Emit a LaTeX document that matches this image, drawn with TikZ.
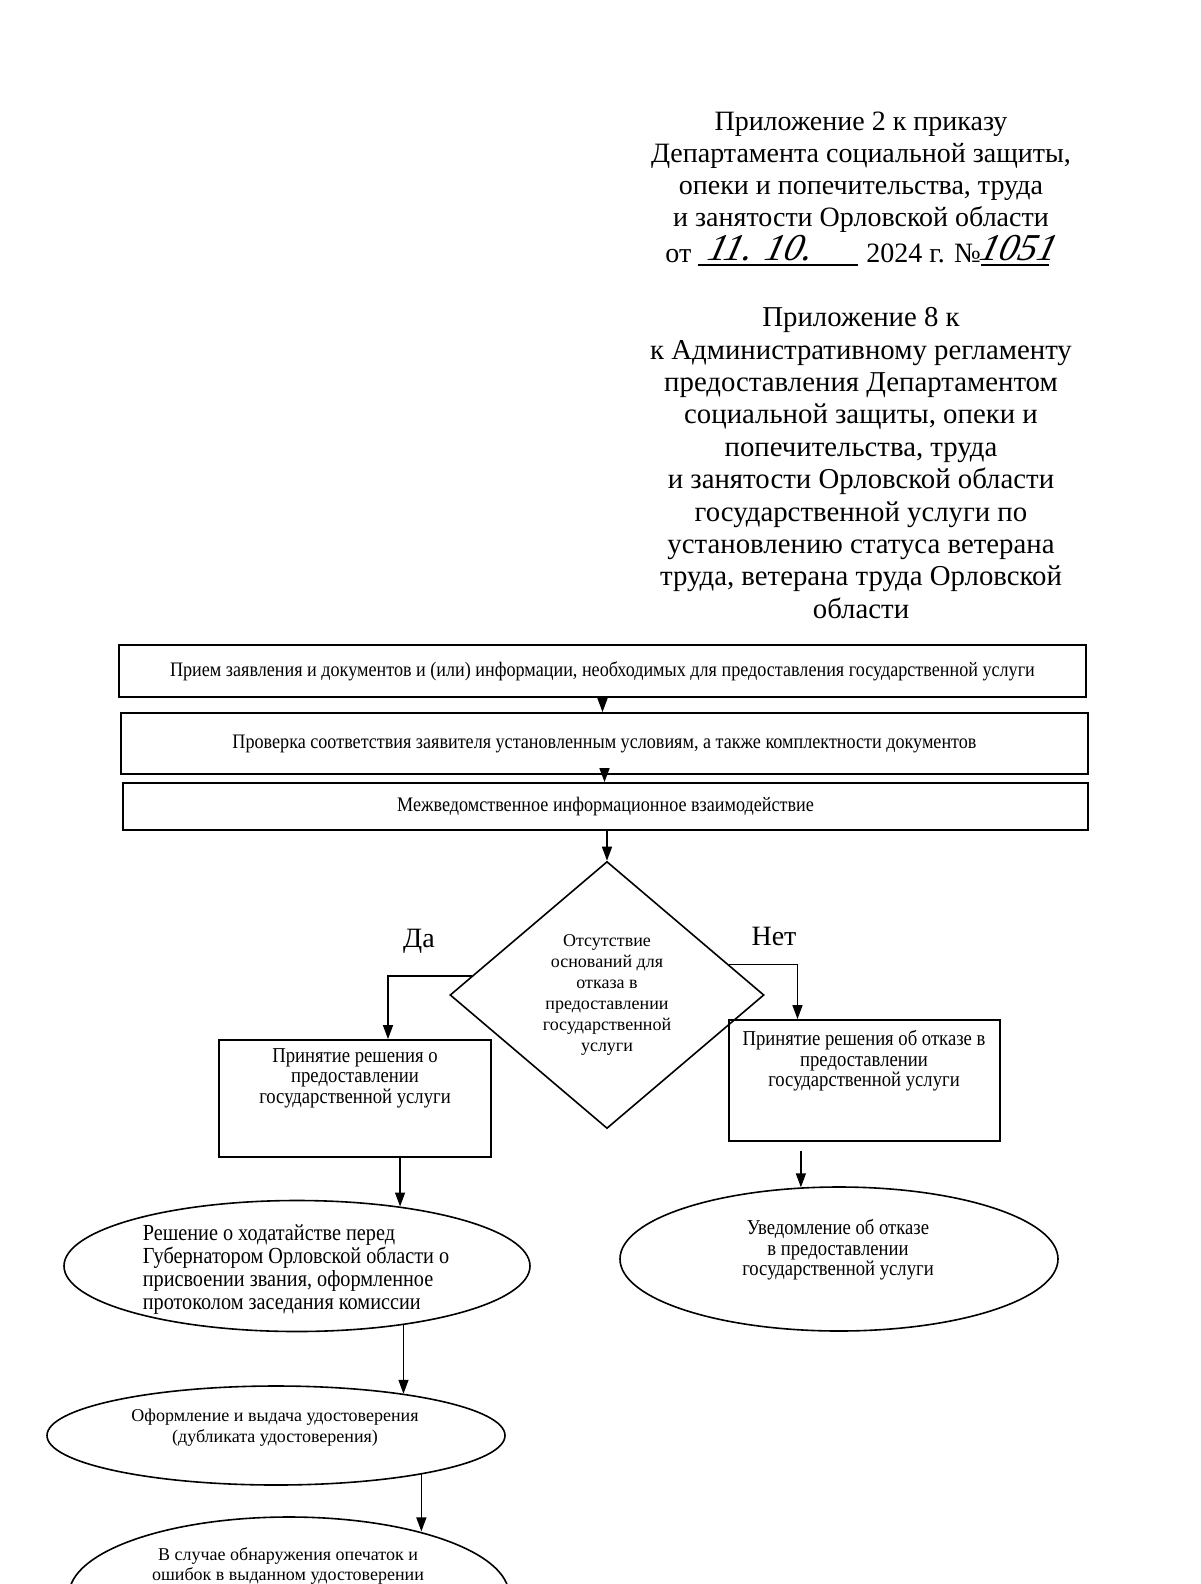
\documentclass[tikz,border=0pt]{standalone}
\usepackage{fontspec}
\setmainfont{Liberation Serif}
\newfontfamily\nf{Liberation Serif}[FakeStretch=0.88]
\usetikzlibrary{shapes.geometric,arrows.meta,calc}
\begin{document}
\begin{tikzpicture}[x=0.5pt,y=-0.5pt,
 box/.style={draw, line width=0.9pt, rectangle, inner sep=0pt},
 ell/.style={draw, ellipse, line width=0.8pt, inner sep=0pt},
 arr/.style={-{Triangle[length=7pt,width=5pt]}, line width=0.7pt},
 hdr/.style={align=center, font=\fontsize{14}{16}\selectfont, inner sep=0pt},
 hand/.style={font=\itshape\fontsize{19}{19}\selectfont, inner sep=0pt, xslant=0.25},
 btxt/.style={font=\nf\fontsize{10.3}{12}\selectfont, inner sep=0pt},
 stxt/.style={align=center, font=\nf\fontsize{10.6}{10.3}\selectfont, inner sep=0pt},
 dtxt/.style={align=center, font=\fontsize{9}{10.5}\selectfont},
 etxt/.style={font=\nf\fontsize{11.5}{11.5}\selectfont, inner sep=0pt},
]
\useasboundingbox[fill=white] (0,0) rectangle (1200,1584);

% header block 1
\node[hdr] (h1) at (861,172) {Приложение 2 к приказу\\Департамента социальной защиты,\\опеки и попечительства, труда\\и занятости Орловской области};
\node[hdr, anchor=base west] (ot) at (665,262) {от};
\node[hdr, anchor=base west] (year) at (866,262) {2024 г. №};
\draw[line width=0.6pt] ([xshift=3pt,yshift=-1.5pt]ot.base east) -- ([xshift=-4pt,yshift=-1.5pt]year.base west);
\node[hand] (d1) at (762,248) {11. 10.};
\draw[line width=0.6pt] ([yshift=-1.5pt]year.base east) -- ++(68,0);
\node[hand] (d2) at (1020,248) {1051};

% header block 2
\node[hdr, font=\fontsize{14.4}{16.2}\selectfont] (h2) at (861,463) {Приложение 8 к\\к Административному регламенту\\предоставления Департаментом\\социальной защиты, опеки и\\попечительства, труда\\и занятости Орловской области\\государственной услуги по\\установлению статуса ветерана\\труда, ветерана труда Орловской\\области};

% boxes
\node[box, btxt, minimum width=483.5pt, minimum height=26pt] (b1) at (602.5,671) {Прием заявления и документов и (или) информации, необходимых для предоставления государственной услуги};
\node[box, btxt, minimum width=483.5pt, minimum height=30.5pt] (b2) at (604.5,743.5) {Проверка соответствия заявителя установленным условиям, а также комплектности документов};
\node[box, btxt, minimum width=482.5pt, minimum height=23.5pt] (b3) at (605.5,806.5) {Межведомственное информационное взаимодействие};

% decision
\node[draw, diamond, line width=0.8pt, minimum width=157pt, minimum height=133.5pt, inner sep=0pt, dtxt] (dia) at (607,995) {Отсутствие\\оснований для\\отказа в\\предоставлении\\государственной\\услуги};
\node[hdr] (da) at (419,941) {Да};
\node[hdr] (net) at (774,936) {Нет};

\node[box, minimum width=136pt, minimum height=58.5pt] (yes) at (355,1098.5) {};
\node[stxt] (yest) at (355,1078) {Принятие решения о\\предоставлении\\государственной услуги};
\node[box, minimum width=135.5pt, minimum height=60.5pt] (no) at (864.5,1080.5) {};
\node[stxt] (not) at (864,1061) {Принятие решения об отказе в\\предоставлении\\государственной услуги};

% ellipses
\node[ell, minimum width=233pt, minimum height=65.5pt] (e1) at (297,1266) {};
\node[etxt, align=left] (e1t) at (296,1270) {Решение о ходатайстве перед\\Губернатором Орловской области о\\присвоении звания, оформленное\\протоколом заседания комиссии};
\node[ell, minimum width=219pt, minimum height=72pt] (e2) at (839,1259) {};
\node[stxt] (e2t) at (838,1250) {Уведомление об отказе\\в предоставлении\\государственной услуги};
\node[ell, minimum width=229pt, minimum height=49.5pt] (e3) at (276,1435.5) {};
\node[dtxt, inner sep=0pt, font=\fontsize{9}{10.5}\selectfont] (e3t) at (275,1428) {Оформление и выдача удостоверения\\(дубликата удостоверения)};
\node[ell, minimum width=220pt, minimum height=78pt] (e4) at (289,1595) {};
\node[dtxt, inner sep=0pt, font=\fontsize{9}{9.8}\selectfont] (e4t) at (288,1566) {В случае обнаружения опечаток и\\ошибок в выданном удостоверении};

% connectors
\draw[arr] (b1.south) -- (b1.south |- b2.north);
\draw[arr] (b2.south) -- (b2.south |- b3.north);
\draw[arr] (dia.north |- b3.south) -- (dia.north);
\draw[arr] (dia.172) -| ($(yes.north)+(33,0)$);
\draw[arr] (dia.14) -| ($(no.north)+(-67,0)$);
\draw[arr] (yes.south -| e1.30) -- (e1.30);
\draw[arr, shorten <=4.5pt] (no.south -| e2.118) -- (e2.118);
\draw[arr] (e1.-29) -- (e1.-29 |- e3.18);
\draw[arr] (e3.-15) -- (e3.-15 |- e4.26);
\end{tikzpicture}
\end{document}
